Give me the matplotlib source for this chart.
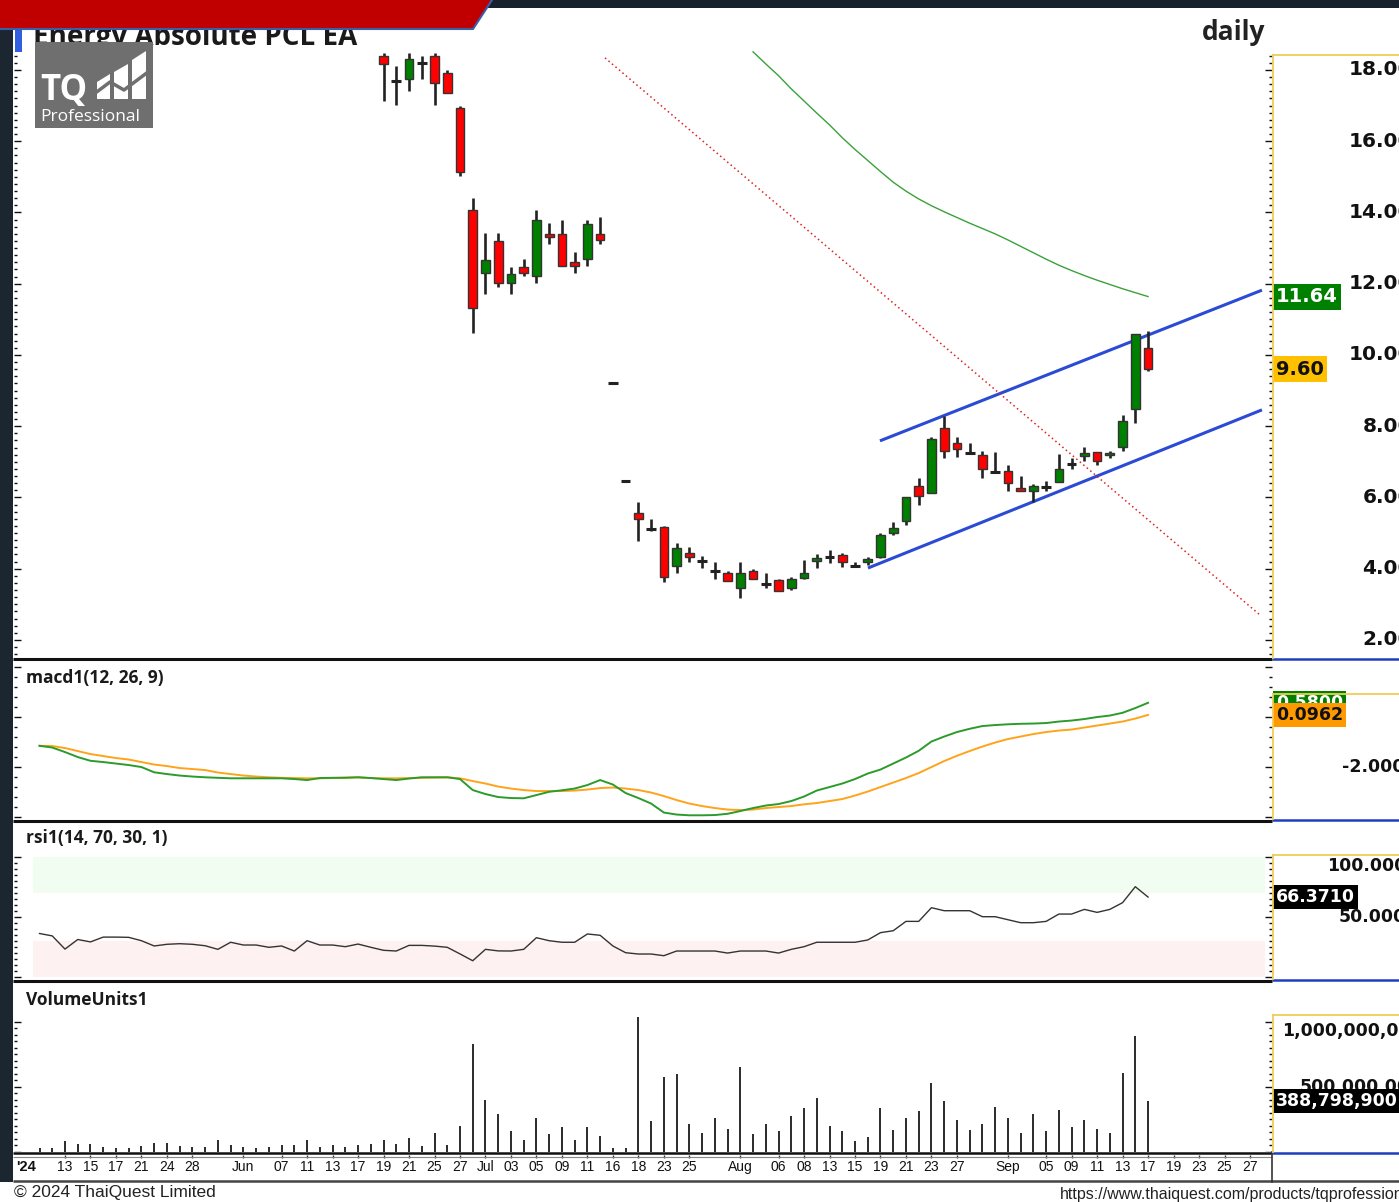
import numpy as np
import matplotlib
matplotlib.use("Agg")
import matplotlib.pyplot as plt
from matplotlib.patches import Rectangle, Polygon
from matplotlib.ticker import MultipleLocator, FixedLocator
import matplotlib.transforms as mtrans

# ---------------- DATA ----------------
trading_days = (
    ["2024-05-" + d for d in "09 10 13 14 15 16 17 20 21 23 24 27 28 29 30 31".split()]
    + ["2024-06-" + d for d in "04 05 06 07 10 11 12 13 14 17 18 19 20 21 24 25 26 27 28".split()]
    + ["2024-07-" + d for d in "01 02 03 04 05 08 09 10 11 12 16 17 18 19 23 24 25 26 30 31".split()]
    + ["2024-08-" + d for d in "01 02 05 06 07 08 09 13 14 15 16 19 20 21 22 23 26 27 28 29 30".split()]
    + ["2024-09-" + d for d in "02 03 04 05 06 09 10 11 12 13 16 17 18 19 20 23 24 25 26 27".split()]
)

tick_dates = ["2024-05-13", "2024-05-15", "2024-05-17", "2024-05-21", "2024-05-24", "2024-05-28",
              "2024-06-04", "2024-06-07", "2024-06-11", "2024-06-13", "2024-06-17", "2024-06-19",
              "2024-06-21", "2024-06-25", "2024-06-27", "2024-07-01", "2024-07-03", "2024-07-05",
              "2024-07-09", "2024-07-11", "2024-07-16", "2024-07-18", "2024-07-23", "2024-07-25",
              "2024-08-01", "2024-08-06", "2024-08-08", "2024-08-13", "2024-08-15", "2024-08-19",
              "2024-08-21", "2024-08-23", "2024-08-27", "2024-09-02", "2024-09-05", "2024-09-09",
              "2024-09-11", "2024-09-13", "2024-09-17", "2024-09-19", "2024-09-23", "2024-09-25",
              "2024-09-27"]
tick_texts = ["13", "15", "17", "21", "24", "28", "Jun", "07", "11", "13", "17", "19", "21", "25",
              "27", "Jul", "03", "05", "09", "11", "16", "18", "23", "25", "Aug", "06", "08", "13",
              "15", "19", "21", "23", "27", "Sep", "05", "09", "11", "13", "17", "19", "23", "25", "27"]

candle_start = "2024-06-19"
opens = [18.40, 17.70, 17.76, 18.19, 18.40, 17.92, 16.92, 14.07, 12.31, 13.20,
         12.03, 12.46, 12.23, 13.40, 13.40, 12.60, 12.70, 13.40, 9.20, 6.45,
         5.56, 5.12, 5.16, 4.08, 4.43, 4.22, 3.95, 3.89, 3.47, 3.95,
         3.57, 3.68, 3.47, 3.75, 4.23, 4.34, 4.39, 4.09, 4.19, 4.34,
         5.00, 5.34, 6.32, 6.13, 7.96, 7.52, 7.26, 7.19, 6.72, 6.74,
         6.26, 6.19, 6.30, 6.43, 6.94, 7.16, 7.27, 7.19, 7.43, 8.48,
         10.19]
highs = [18.47, 18.12, 18.47, 18.40, 18.47, 18.00, 17.00, 14.40, 13.42, 13.42,
         12.48, 12.69, 14.07, 13.70, 13.79, 12.88, 13.79, 13.88, 9.25, 6.50,
         5.88, 5.40, 5.21, 4.73, 4.60, 4.36, 4.18, 3.94, 4.20, 4.00,
         3.87, 3.71, 3.76, 4.25, 4.41, 4.53, 4.45, 4.20, 4.32, 5.00,
         5.32, 6.00, 6.56, 7.71, 8.30, 7.71, 7.52, 7.31, 7.27, 6.91,
         6.60, 6.38, 6.46, 7.21, 7.12, 7.41, 7.27, 7.31, 8.32, 10.59,
         10.68]
lows = [17.14, 17.02, 17.42, 17.75, 17.02, 17.35, 15.02, 10.61, 11.70, 11.90,
        11.70, 12.22, 12.03, 13.11, 12.51, 12.31, 12.51, 13.11, 9.20, 6.45,
        4.78, 5.07, 3.62, 3.87, 4.18, 4.03, 3.71, 3.66, 3.19, 3.71,
        3.47, 3.38, 3.40, 3.70, 4.03, 4.15, 4.06, 4.06, 4.11, 4.29,
        4.95, 5.23, 5.79, 6.13, 7.12, 7.15, 7.24, 6.56, 6.72, 6.18,
        6.19, 5.88, 6.19, 6.43, 6.80, 7.03, 6.91, 7.12, 7.31, 8.10,
        9.55]
closes = [18.16, 17.70, 18.31, 18.19, 17.64, 17.35, 15.15, 11.31, 12.68, 12.03,
          12.27, 12.31, 13.79, 13.30, 12.51, 12.51, 13.68, 13.23, 9.20, 6.45,
          5.39, 5.12, 3.78, 4.59, 4.32, 4.22, 3.95, 3.66, 3.87, 3.71,
          3.57, 3.38, 3.71, 3.87, 4.31, 4.34, 4.20, 4.09, 4.28, 4.95,
          5.15, 6.00, 6.04, 7.64, 7.31, 7.35, 7.26, 6.80, 6.72, 6.40,
          6.19, 6.32, 6.30, 6.79, 6.94, 7.26, 7.03, 7.26, 8.16, 10.59,
          9.60]

ma_start = "2024-08-02"
ma_values = [18.51, 18.17, 17.84, 17.47, 17.13, 16.79, 16.46, 16.10, 15.77, 15.46,
             15.15, 14.85, 14.60, 14.38, 14.19, 14.02, 13.86, 13.70, 13.55, 13.40,
             13.23, 13.05, 12.87, 12.69, 12.52, 12.37, 12.23, 12.10, 11.98, 11.86,
             11.75, 11.64]

# trend lines: (bar position, price)
channel_upper = [(65.96, 7.59), (95.94, 11.82)]
channel_lower = [(65.02, 4.02), (95.94, 8.46)]
down_trend = [(44.38, 18.34), (95.79, 2.70)]

volume_m = [25.6, 25.6, 79.5, 59, 59, 38.5, 25.6, 25.6, 46, 69,
            69, 46, 36, 36, 90, 49, 36, 25.6, 38.5, 49,
            49, 90, 36, 49, 36, 49, 59, 90, 59, 103,
            46, 146, 49, 200, 828, 397, 287, 156, 90, 256,
            133, 190, 90, 190, 123, 25.6, 25.6, 1033, 233, 572,
            595, 210, 146, 256, 177, 649, 133, 210, 156, 277,
            333, 410, 200, 156, 79.5, 113, 333, 167, 256, 310,
            531, 387, 244, 167, 210, 344, 256, 146, 287, 156,
            320, 190, 244, 177, 146, 608, 892, 388.7989]

macd = [-1.14, -1.21, -1.39, -1.59, -1.74, -1.79, -1.85, -1.91, -1.99, -2.20,
        -2.27, -2.33, -2.37, -2.40, -2.42, -2.44, -2.44, -2.44, -2.44, -2.44,
        -2.47, -2.51, -2.43, -2.42, -2.42, -2.40, -2.43, -2.47, -2.51, -2.45,
        -2.40, -2.40, -2.40, -2.47, -2.91, -3.07, -3.19, -3.23, -3.24, -3.11,
        -2.98, -2.92, -2.85, -2.71, -2.51, -2.69, -3.03, -3.23, -3.45, -3.81,
        -3.89, -3.92, -3.92, -3.91, -3.86, -3.75, -3.63, -3.53, -3.47, -3.35,
        -3.17, -2.93, -2.79, -2.65, -2.47, -2.25, -2.09, -1.85, -1.61, -1.34,
        -0.97, -0.77, -0.59, -0.46, -0.35, -0.31, -0.28, -0.26, -0.25, -0.23,
        -0.17, -0.13, -0.07, 0.01, 0.07, 0.18, 0.37, 0.58]
signal = [-1.14, -1.15, -1.23, -1.35, -1.47, -1.55, -1.63, -1.69, -1.79, -1.89,
          -1.95, -2.03, -2.07, -2.11, -2.21, -2.27, -2.33, -2.37, -2.40, -2.42,
          -2.43, -2.44, -2.44, -2.43, -2.41, -2.40, -2.43, -2.44, -2.44, -2.43,
          -2.42, -2.41, -2.40, -2.44, -2.55, -2.65, -2.77, -2.85, -2.91, -2.95,
          -2.95, -2.95, -2.93, -2.89, -2.83, -2.81, -2.85, -2.91, -3.01, -3.15,
          -3.31, -3.45, -3.55, -3.63, -3.69, -3.71, -3.69, -3.63, -3.59, -3.55,
          -3.48, -3.43, -3.35, -3.27, -3.13, -2.97, -2.79, -2.61, -2.43, -2.23,
          -1.99, -1.75, -1.54, -1.35, -1.17, -1.01, -0.87, -0.77, -0.67, -0.59,
          -0.53, -0.49, -0.41, -0.33, -0.25, -0.17, -0.05, 0.0962]
rsi = [36, 34, 23, 31, 29, 33, 33, 32.8, 30, 25.6,
       27, 27.5, 27, 25.8, 22.8, 28.7, 26.4, 26.4, 24.5, 25.6,
       21.4, 30, 26.4, 26.4, 25, 27.2, 24.5, 22, 21.4, 26.1,
       26.1, 25.5, 24.5, 19, 13.3, 22.8, 21.5, 21.4, 22.8, 32.5,
       30, 28.7, 28.7, 35.6, 34.5, 25.6, 20, 18.9, 18.9, 17.5,
       21.4, 21.4, 21.4, 21.4, 19.7, 21.4, 21.4, 21.4, 19.7, 22.8,
       25, 28.7, 28.7, 28.7, 28.7, 30.6, 36.7, 38.3, 46.1, 46.1,
       57.5, 55, 55, 55, 50, 50, 47.5, 45, 45, 46.1,
       52.2, 52.2, 56.1, 53.6, 56.1, 61.7, 75, 66.371]

price_ticks = [18, 16, 14, 12, 10, 8, 6, 4, 2]

# ---------------- LAYOUT ----------------
W, H = 1399, 1202
fig = plt.figure(figsize=(W / 100, H / 100), dpi=100)
fig.patch.set_facecolor("white")

X0, SP = 39.5, 12.742          # pixel of first bar, pixel per bar
XL, XR = 14, 1272
xlim = ((XL - X0) / SP, (XR - X0) / SP)


def px_axes(x0, y0, x1, y1, z=1):
    return fig.add_axes([x0 / W, 1 - y1 / H, (x1 - x0) / W, (y1 - y0) / H], zorder=z)


ax_p = px_axes(XL, 8, XR, 658)
ax_m = px_axes(XL, 660, XR, 820)
ax_r = px_axes(XL, 822, XR, 980)
ax_v = px_axes(XL, 982, XR, 1152)
ax_x = px_axes(XL, 1152, XR, 1182)

for ax in (ax_p, ax_m, ax_r, ax_v, ax_x):
    ax.set_xlim(*xlim)
    for s in ax.spines.values():
        s.set_visible(False)
    ax.set_xticks([])
    ax.set_facecolor("white")

ax_p.set_ylim(1.4947, 19.740)
ax_m.set_ylim(-4.108, 2.292)
ax_r.set_ylim(-2.75, 128.92)
ax_v.set_ylim(-0.0023e9, 1.3054e9)
ax_x.set_ylim(0, 1)
ax_x.set_yticks([])


def set_ticks(ax, major, minor):
    ax.yaxis.set_major_locator(FixedLocator(major))
    ax.yaxis.set_minor_locator(FixedLocator(minor))
    ax.tick_params(axis="y", which="both", direction="in", left=True, right=True,
                   labelleft=False, labelright=False, colors="#111111", width=1)
    ax.tick_params(axis="y", which="major", length=5)
    ax.tick_params(axis="y", which="minor", length=2.5)


set_ticks(ax_p, np.arange(2, 19, 2), np.arange(1.6, 18.5, 0.2))
set_ticks(ax_m, [-4, -2, 0, 2], np.arange(-4, 2.1, 0.4))
set_ticks(ax_r, [0, 50, 100], np.arange(0, 101, 5))
set_ticks(ax_v, [0, 5e8, 1e9], np.arange(0, 1.0e9 + 1, 5e7))

n = len(volume_m)
ix = np.arange(n)

# ---------------- PRICE ----------------
cs = trading_days.index(candle_start)
for k in range(len(opens)):
    i = cs + k
    o, h, l, c = opens[k], highs[k], lows[k], closes[k]
    ax_p.vlines(i, l, h, color="#222222", lw=1.9, zorder=3)
    if abs(c - o) < 0.005:
        ax_p.hlines(o, i - 0.38, i + 0.38, color="#222222", lw=2.2, zorder=4)
    else:
        fc = "#008000" if c > o else "#ff0000"
        ax_p.add_patch(Rectangle((i - 0.34, min(o, c)), 0.68, abs(c - o), facecolor=fc,
                                 edgecolor="#333333", lw=1.0, zorder=4))

ms = trading_days.index(ma_start)
ax_p.plot(np.arange(ms, ms + len(ma_values)), ma_values, color="#3aa13a", lw=1.0, zorder=2)
for line in (channel_upper, channel_lower):
    ax_p.plot([line[0][0], line[1][0]], [line[0][1], line[1][1]], color="#2b4bd4", lw=2.2, zorder=2,
              solid_capstyle="butt")
ax_p.plot([down_trend[0][0], down_trend[1][0]], [down_trend[0][1], down_trend[1][1]],
          color="#e02020", lw=1.1, linestyle=(0, (1, 2)), zorder=2)

# ---------------- MACD ----------------
ax_m.plot(ix, signal, color="#ffa31a", lw=1.4, zorder=3)
ax_m.plot(ix, macd, color="#2b9b2b", lw=1.4, zorder=3)

# ---------------- RSI ----------------
bx0, bx1 = (33 - XL) / (XR - XL), (1265 - XL) / (XR - XL)
ax_r.axhspan(70, 100, xmin=bx0, xmax=bx1, color="#f2fdf2", lw=0, zorder=1)
ax_r.axhspan(0, 30, xmin=bx0, xmax=bx1, color="#fdf1f1", lw=0, zorder=1)
ax_r.plot(ix, rsi, color="#333333", lw=1.0, zorder=3)

# ---------------- VOLUME ----------------
ax_v.vlines(ix, 0, np.array(volume_m) * 1e6, color="#1a1a1a", lw=1.3)

# ---------------- X AXIS ----------------
tick_pos = [trading_days.index(d) for d in tick_dates]
xfont = ["Liberation Sans Narrow", "Liberation Sans", "DejaVu Sans"]
for p, t in zip(tick_pos, tick_texts):
    ax_x.text(p, 0.5, t, ha="center", va="center", fontsize=10, family=xfont, color="#111111")
ax_x.vlines(tick_pos, 0.80, 0.90, color="#333333", lw=1.0)
ax_x.text(xlim[0] + 0.15, 0.5, "'24", ha="left", va="center", fontsize=10.5, fontweight="bold",
          family=["Liberation Sans", "DejaVu Sans"], color="#111111")


# ---------------- RIGHT COLUMN LABELS ----------------
def rtext(ax, xpx, val, txt, size, color="#111111", ha="left", va="center", box=None, z=5):
    tr = mtrans.blended_transform_factory(fig.transFigure, ax.transData)
    kw = {}
    if box is not None:
        kw["bbox"] = dict(boxstyle="square,pad=0.18", fc=box, ec="none")
    ax.text(xpx / W, val, txt, transform=tr, ha=ha, va=va, fontsize=size, fontweight="bold",
            color=color, clip_on=False, zorder=z, family="DejaVu Sans", **kw)


for v in price_ticks:
    rtext(ax_p, 1412, v, "%.2f" % v, 14.5, ha="right")
rtext(ax_p, 1276, ma_values[-1], "%.2f" % ma_values[-1], 14, color="white", box="#008000", z=6)
rtext(ax_p, 1276, closes[-1], "%.2f" % closes[-1], 14, color="#111111", box="#ffc000", z=6)

rtext(ax_m, 1342, -2, "-2.000", 12.5)
rtext(ax_m, 1276, macd[-1], "%.4f" % macd[-1], 12.5, color="white", box="#008000", z=6)
rtext(ax_m, 1276, signal[-1], "%.4f" % signal[-1], 12.5, color="#111111", box="#ff9900", z=7)

rtext(ax_r, 1327, 100, "100.000", 12.5, va="top")
rtext(ax_r, 1339, 50, "50.000", 12.5)
rtext(ax_r, 1276, rsi[-1], "%.4f" % rsi[-1], 12.5, color="white", box="#000000", z=6)

rtext(ax_v, 1282, 1e9, "1,000,000,000", 12.5, va="top")
rtext(ax_v, 1300, 5e8, "500,000,000", 12.5)
rtext(ax_v, 1276, volume_m[-1] * 1e6, "{:,.0f}".format(volume_m[-1] * 1e6), 12.5, color="white",
      box="#000000", z=6)

# ---------------- DECORATION ----------------
deco = fig.add_axes([0, 0, 1, 1], zorder=20)
deco.set_xlim(0, W)
deco.set_ylim(H, 0)
deco.set_axis_off()
deco.patch.set_visible(False)

# panel separators
for y in (659, 820.5, 981):
    deco.plot([13, 1272], [y, y], color="#111111", lw=2.2, solid_capstyle="butt")
deco.plot([13, 1272], [1152.5, 1152.5], color="#111111", lw=1.8, solid_capstyle="butt")
deco.plot([13, 1272], [1156.5, 1156.5], color="#888888", lw=0.8, solid_capstyle="butt")
deco.plot([13, 1399], [1181, 1181], color="#444444", lw=1.8, solid_capstyle="butt")
deco.plot([1272, 1272], [1152, 1182], color="#333333", lw=1.2)
for y in (658.5, 819.5, 979.5, 1152.5):
    deco.plot([1272, 1399], [y, y], color="#1f3fbf", lw=1.8, solid_capstyle="butt")
for yt, yb in ((55, 658), (694, 819), (855, 979), (1015, 1152)):
    deco.plot([1273, 1273], [yt, yb], color="#f2cc55", lw=1.3)
    deco.plot([1273, 1399], [yt, yt], color="#f2cc55", lw=1.3)

# frame strips
deco.add_patch(Rectangle((0, 0), 13, 1182, facecolor="#1c2631", edgecolor="none", zorder=1))
deco.add_patch(Rectangle((0, 0), W, 8, facecolor="#18222d", edgecolor="none", zorder=1))

# title under banner
deco.text(33, 45, "Energy Absolute PCL EA", fontsize=20, fontweight="bold",
          family=["Open Sans", "DejaVu Sans"], color="#1a1a1a", va="baseline", ha="left", zorder=2)
deco.add_patch(Polygon([(0, 0), (492, 0), (473, 29), (0, 29)], closed=True, facecolor="#c00000",
                       edgecolor="none", zorder=3))
deco.plot([0, 473, 492], [29, 29, 0], color="#3a5ea8", lw=1.5, zorder=4)
deco.add_patch(Rectangle((15, 29), 7, 23, facecolor="#3060e0", edgecolor="none", zorder=3))

# logo
deco.add_patch(Rectangle((35, 42), 118, 86, facecolor="#6f6f6f", edgecolor="none", zorder=3))
deco.text(40, 100, "TQ", fontsize=25, fontweight="bold", family=["Open Sans", "DejaVu Sans"],
          color="white", va="baseline", ha="left", zorder=4)
for pts in ([(97, 82), (110, 74), (110, 99), (97, 99)],
            [(114, 72), (128, 64), (128, 99), (114, 99)],
            [(132, 60), (146, 51), (146, 99), (132, 99)]):
    deco.add_patch(Polygon(pts, closed=True, facecolor="white", edgecolor="none", zorder=4))
deco.plot([94, 110, 124, 148], [94, 82, 90, 72], color="#6f6f6f", lw=2.5, zorder=5)
deco.text(40, 121, "Professional", fontsize=12.5, family=["Open Sans", "DejaVu Sans"],
          color="white", va="baseline", ha="left", zorder=4)

# panel titles
tfont = ["Open Sans", "DejaVu Sans"]
deco.text(1265, 33, "daily", fontsize=19, fontweight="bold", family=tfont, color="#222222",
          ha="right", va="center")
deco.text(26, 678, "macd1(12, 26, 9)", fontsize=12.5, fontweight="bold", family=tfont,
          color="#1a1a1a", ha="left", va="center")
deco.text(26, 838, "rsi1(14, 70, 30, 1)", fontsize=12.5, fontweight="bold", family=tfont,
          color="#1a1a1a", ha="left", va="center")
deco.text(26, 1000, "VolumeUnits1", fontsize=12.5, fontweight="bold", family=tfont,
          color="#1a1a1a", ha="left", va="center")

# footer
deco.text(14, 1193, "\u00a9 2024 ThaiQuest Limited", fontsize=12.5,
          family=["Liberation Sans", "DejaVu Sans"], color="#222222", ha="left", va="center")
deco.text(1060, 1194, "https://www.thaiquest.com/products/tqprofessional", fontsize=11.5,
          family=["Liberation Sans Narrow", "Liberation Sans", "DejaVu Sans"], color="#222222",
          ha="left", va="center")

fig.savefig("out.png", dpi=100)
